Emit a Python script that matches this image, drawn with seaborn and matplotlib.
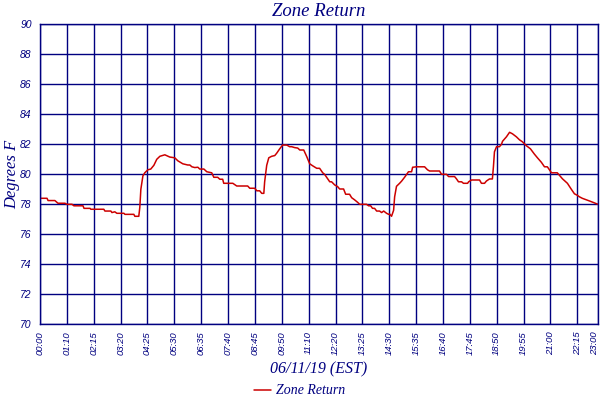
import pandas as pd
import matplotlib
matplotlib.use('Agg')
import matplotlib.pyplot as plt
import matplotlib.transforms as mtransforms
import seaborn as sns

# sample index (5-min readings) and zone return temperature
sample_idx = [0, 3.4, 3.9, 7.2, 8.7, 12.1, 13.0, 15.5, 16.4, 20.8, 21.3, 24.2, 24.6, 30.9,
              31.4, 34.3, 34.8, 36.2, 37.2, 40.6, 41.1, 45.4, 45.9, 47.8, 48.3, 48.8, 49.8,
              50.7, 52.2, 53.6, 55.1, 56.5, 58.0, 60.4, 62.8, 65.2, 66.7, 69.1, 71.5, 72.5,
              73.5, 74.9, 76.4, 77.3, 79.3, 80.7, 83.1, 84.1, 86.0, 87.0, 88.4, 88.9, 93.3,
              95.2, 100.5, 101.5, 103.9, 104.9, 106.3, 107.3, 108.3, 108.7, 109.7, 110.7,
              112.1, 113.6, 114.5, 116.0, 117.4, 119.4, 120.8, 121.8, 123.2, 124.7, 125.7,
              127.6, 129.0, 130.5, 131.9, 133.9, 135.3, 136.8, 137.7, 139.2, 140.2, 141.1,
              142.6, 144.0, 145.0, 146.9, 147.9, 149.8, 150.8, 152.2, 153.7, 154.7, 158.0,
              159.0, 160.0, 160.9, 161.9, 162.9, 164.3, 165.3, 166.3, 167.7, 168.7, 169.2,
              170.1, 171.1, 171.6, 172.5, 174.0, 175.0, 176.4, 177.4, 178.3, 179.8, 180.3,
              182.2, 186.1, 187.5, 188.5, 193.3, 194.3, 196.7, 197.7, 199.6, 200.6, 201.5,
              202.5, 204.0, 204.9, 206.9, 207.4, 208.8, 212.7, 213.6, 215.1, 216.0, 217.5,
              218.9, 219.4, 219.9, 220.9, 222.3, 223.3, 223.8, 225.7, 227.2, 228.6, 230.5,
              232.0, 233.4, 235.4, 237.3, 239.2, 240.7, 242.6, 244.1, 245.5, 246.5, 247.5,
              250.3, 252.8, 255.2, 257.1, 258.6, 260.0, 261.0, 262.4, 264.4, 266.3, 268.2, 270]
temp_f = [78.4, 78.4, 78.25, 78.25, 78.07, 78.07, 78.0, 78.0, 77.9, 77.9, 77.73, 77.73, 77.67,
          77.67, 77.55, 77.55, 77.45, 77.5, 77.4, 77.4, 77.33, 77.33, 77.2, 77.2, 77.8, 79.0,
          79.9, 80.1, 80.3, 80.35, 80.6, 81.0, 81.2, 81.3, 81.15, 81.1, 80.9, 80.7, 80.62,
          80.62, 80.5, 80.45, 80.47, 80.35, 80.35, 80.17, 80.1, 79.8, 79.8, 79.67, 79.67,
          79.4, 79.4, 79.22, 79.22, 79.07, 79.07, 78.9, 78.9, 78.73, 78.73, 79.5, 80.6, 81.1,
          81.2, 81.25, 81.4, 81.7, 81.95, 81.95, 81.84, 81.84, 81.78, 81.75, 81.62, 81.62,
          81.2, 80.7, 80.57, 80.4, 80.4, 80.1, 80.0, 79.7, 79.5, 79.5, 79.29, 79.18, 79.02,
          79.02, 78.67, 78.67, 78.44, 78.3, 78.13, 78.0, 78.0, 77.9, 77.9, 77.73, 77.73, 77.55,
          77.55, 77.45, 77.55, 77.4, 77.33, 77.35, 77.2, 77.6, 78.5, 79.2, 79.4, 79.55, 79.8,
          80.0, 80.17, 80.17, 80.47, 80.5, 80.5, 80.3, 80.22, 80.22, 80.0, 80.0, 79.85, 79.85,
          79.85, 79.7, 79.5, 79.5, 79.4, 79.4, 79.5, 79.62, 79.62, 79.4, 79.4, 79.55, 79.69,
          79.69, 80.5, 81.5, 81.84, 81.84, 82.0, 82.2, 82.5, 82.8, 82.7, 82.5, 82.3, 82.17,
          81.9, 81.7, 81.35, 81.1, 80.8, 80.5, 80.5, 80.3, 80.1, 80.1, 79.7, 79.4, 79.0, 78.7,
          78.6, 78.5, 78.4, 78.3, 78.2, 78.1, 78.0]

tick_idx = [0, 13, 26, 39, 52, 65, 78, 91, 104, 117, 130, 143, 156, 169, 182, 195, 208,
            221, 234, 247, 260, 270]
tick_labels = ['00:00', '01:10', '02:15', '03:20', '04:25', '05:30', '06:35', '07:40',
               '08:45', '09:50', '11:10', '12:20', '13:25', '14:30', '15:35', '16:40',
               '17:45', '18:50', '19:55', '21:00', '22:15', '23:00']

df = pd.DataFrame({'idx': sample_idx, 'temp': temp_f})

navy = '#000080'
sns.set_style('white')
plt.rcParams['font.family'] = ['Liberation Serif', 'DejaVu Serif']

fig = plt.figure(figsize=(6, 4), dpi=100)
ax = fig.add_axes([40 / 600, 1 - 324.3 / 400, 558 / 600, 300 / 400])

sns.lineplot(data=df, x='idx', y='temp', color='#cc0000', linewidth=1.1, ax=ax,
             label='Zone Return')

ax.set_xlim(0, 270)
ax.set_ylim(70, 90)
ax.set_yticks(range(70, 91, 2))
ax.set_xticks(tick_idx)
ax.set_xticklabels(tick_labels, rotation=90, fontsize=6.8, color=navy, style='italic',
                   family='Liberation Sans')
ax.set_yticklabels([str(v) for v in range(70, 91, 2)], fontsize=7.5, color=navy,
                   style='italic', family='Liberation Sans')
ax.tick_params(axis='y', length=0, pad=6)
ax.tick_params(axis='x', length=0, pad=5)
# keep the last time label inside the canvas
last = ax.get_xticklabels()[-1]
last.set_transform(last.get_transform() +
                   mtransforms.ScaledTranslation(-3 / 100, 0, fig.dpi_scale_trans))
ax.grid(True, color=navy, linewidth=1.0)
for s in ax.spines.values():
    s.set_color(navy)
    s.set_linewidth(1.0)

ax.set_title('Zone Return', fontsize=13.5, color=navy, style='italic', pad=6)
ax.set_xlabel('06/11/19 (EST)', fontsize=11.5, color=navy, style='italic', labelpad=5)
ax.set_ylabel('Degrees F', fontsize=12, color=navy, style='italic')
ax.yaxis.set_label_coords(-0.036, 0.5)

ax.legend_.remove()
leg = fig.legend(loc='lower center', bbox_to_anchor=(0.5, -0.025), frameon=False,
                 handlelength=1.2, handletextpad=0.4, fontsize=10)
for t in leg.get_texts():
    t.set_color(navy)
    t.set_style('italic')

fig.savefig('out.png', dpi=100)
